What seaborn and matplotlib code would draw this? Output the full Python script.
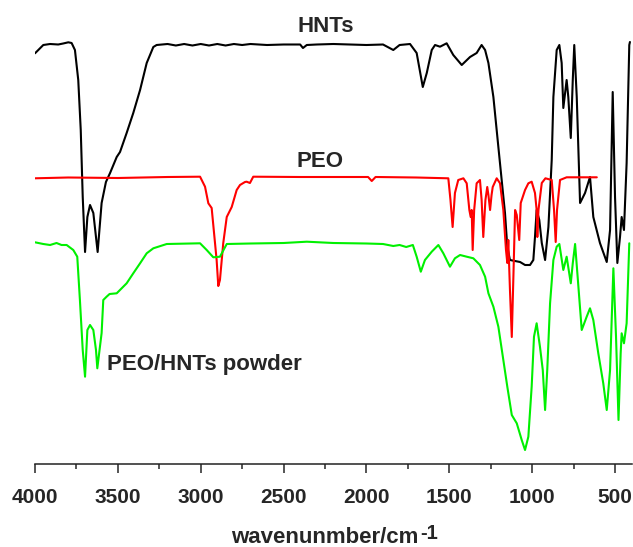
import numpy as np
import pandas as pd
import seaborn as sns
import matplotlib.pyplot as plt
from matplotlib.ticker import MultipleLocator

sns.set_style("white")
plt.rcParams['font.family'] = ['Liberation Sans', 'DejaVu Sans']

# FTIR spectra; y is a downward offset (axis is inverted)
hnts_wn = [4000, 3950, 3909, 3860, 3830, 3799, 3779, 3759, 3739, 3724, 3712, 3698, 3684, 3668, 3648,
           3632, 3622, 3598, 3572, 3547, 3507, 3487, 3447, 3407, 3366, 3326, 3286, 3266,
           3200, 3150, 3100, 3050, 3000, 2950, 2900, 2850, 2800, 2750, 2700, 2600, 2500, 2400, 2383,
           2360, 2300, 2200, 2100, 2000, 1900, 1838, 1800, 1737,
           1697, 1660, 1636, 1606, 1586, 1556, 1516, 1476, 1425, 1375, 1335, 1305, 1284, 1264, 1234,
           1204, 1184, 1164, 1150, 1134, 1073, 1043, 1013, 993, 983, 973, 957, 942, 922, 902, 882,
           872, 852, 836, 822, 812, 792, 782, 767, 755, 746, 731, 711, 681, 651, 631, 591, 550, 530,
           514, 500, 486, 470, 460, 446, 430, 414, 410]
hnts_y = [53.3, 45, 44, 44.5, 43.5, 42.3, 43, 50, 80, 130, 197, 252, 217, 205, 213,
          237, 252, 203, 182, 173, 157, 152, 133, 113, 90, 63, 47, 45,
          44, 45.5, 44, 45.5, 44, 45.5, 44, 45.5, 44, 45, 44, 45, 44.5, 44.5, 48,
          45, 44.5, 44, 44.5, 45, 44.5, 50, 45, 44,
          53, 87, 73, 50, 45, 46.7, 43.3, 55, 65, 57, 53, 45, 50, 63, 97,
          147, 180, 213, 247, 260, 262, 265, 265, 260, 237, 210, 220, 243, 260, 227, 160,
          97, 50, 45, 63, 108, 80, 97, 138, 80, 45, 97, 203, 193, 177, 217, 243, 262, 230,
          92, 197, 263, 237, 217, 230, 163, 45, 42]

peo_wn = [4000, 3800, 3500, 3200, 3004, 2974, 2954, 2934, 2904, 2894, 2884, 2864, 2843, 2813, 2783,
          2763, 2743, 2733, 2723, 2703, 2683, 2400, 2100, 1990, 1968, 1945, 1700, 1506, 1493, 1480,
          1466, 1446, 1415, 1395, 1379, 1371, 1365, 1359, 1350, 1335, 1315, 1305, 1295, 1282, 1271,
          1264, 1254, 1245, 1238, 1214, 1194, 1174, 1158, 1150, 1144, 1134, 1123, 1113, 1103, 1093,
          1078, 1069, 1043, 1023, 1003, 983, 973, 969, 962, 942, 920, 882, 868, 858, 850, 832, 792, 610]
peo_y = [178.3, 177.5, 178, 177, 176.7, 186.7, 203.3, 208, 260, 286, 280, 243, 217, 207, 190,
         185, 183, 182, 181.7, 183, 176.7, 177, 177, 177, 181, 177, 177.5, 178.3, 200, 227,
         193, 180, 178.3, 183.3, 210, 217, 210, 250, 210, 183.3, 180, 200, 237, 200, 187,
         195, 210, 195, 187, 178.3, 183.3, 210, 250, 263, 240, 290, 337, 275, 210, 215,
         240, 203, 190, 183.3, 181.7, 193, 210, 237, 210, 183, 178.3, 180, 210, 242, 210, 180, 177.3, 177.3]

mix_wn = [4000, 3950, 3909, 3870, 3840, 3809, 3769, 3745, 3729, 3712, 3698, 3684, 3668, 3648, 3632,
          3624, 3598, 3588, 3568, 3550, 3507, 3447, 3407, 3366, 3326, 3286, 3205, 3004, 2964, 2924,
          2884, 2843, 2700, 2500, 2360, 2200, 2000, 1900, 1838, 1800, 1760, 1720, 1697, 1672, 1647,
          1606, 1566, 1536, 1496, 1466, 1435, 1395, 1355, 1315, 1284, 1264, 1234, 1204, 1174, 1150,
          1123, 1093, 1063, 1043, 1023, 1003, 989, 973, 953, 936, 922, 909, 892, 872, 852, 836, 812,
          792, 767, 755, 741, 721, 701, 671, 651, 631, 601, 571, 550, 530, 510, 494, 479, 466, 460,
          446, 430, 414]
mix_y = [242.3, 244, 245, 243, 245, 245, 250, 256.7, 300, 350, 376.7, 330, 325, 330, 350,
         368.3, 333, 300, 296.7, 294, 293.3, 283.3, 273.3, 263.3, 253.3, 248.3, 244, 243.3, 250, 257.3,
         256.7, 244, 243.5, 243, 241.7, 243, 243.5, 244, 246, 245, 247, 245, 256.7, 271.7, 260,
         251.7, 245, 253.3, 266.7, 258.3, 255, 256.7, 258.3, 265, 276.7, 293.3, 306.7, 326.7, 360, 386.7,
         415, 423.3, 440, 450, 436.7, 386.7, 336.7, 323.3, 346.7, 370, 410, 370, 303.3, 260, 246.7, 244, 270,
         256.7, 283.3, 263.3, 244, 286.7, 330, 316.7, 308.3, 320, 353.3, 383.3, 410, 370, 268.3, 336.7, 420, 353.3, 333.3,
         343.3, 323.3, 243.3]

fig = plt.figure(figsize=(6.33, 5.47), dpi=100)
ax = fig.add_axes([35 / 633, 83 / 547, 596.6 / 633, 464 / 547])

lw = 1.5
sns.lineplot(x=hnts_wn, y=hnts_y, color='black', lw=lw, estimator=None, sort=False, ax=ax)
sns.lineplot(x=peo_wn, y=peo_y, color='#ff0000', lw=lw, estimator=None, sort=False, ax=ax)
sns.lineplot(x=mix_wn, y=mix_y, color='#00f000', lw=lw, estimator=None, sort=False, ax=ax)

ax.set_xlim(4000, 400)
ax.set_ylim(464, 0)
ax.set_yticks([])
ax.xaxis.set_major_locator(MultipleLocator(500))
ax.xaxis.set_minor_locator(MultipleLocator(250))
ax.tick_params(axis='x', which='major', direction='out', length=6.5, width=1.1, pad=11,
               labelsize=15, bottom=True)
ax.tick_params(axis='x', which='minor', direction='out', length=3.6, width=1.1, bottom=True)
for t in ax.get_xticklabels():
    t.set_fontweight('bold')
sns.despine(ax=ax, left=True)
ax.spines['bottom'].set_linewidth(1.1)
ax.spines['bottom'].set_color('#222222')

xl = ax.set_xlabel('wavenunmber/cm', fontsize=16, fontweight='bold')
ax.xaxis.set_label_coords(0.485, -0.171)
xl.set_verticalalignment('baseline')
ax.set_ylabel('')
# superscript drawn nearly full size, as in the original
ax.annotate('-1', xy=(1, 0), xycoords=xl, xytext=(1.5, 7), textcoords='offset points',
            fontsize=14.5, fontweight='bold', ha='left', va='baseline')

ax.text(2415, 32, 'HNTs', fontsize=16, fontweight='bold', ha='left', va='baseline')
ax.text(2421, 167, 'PEO', fontsize=16, fontweight='bold', ha='left', va='baseline')
ax.text(3564, 370, 'PEO/HNTs powder', fontsize=16, fontweight='bold', ha='left', va='baseline')

fig.savefig('out.png', dpi=100)
